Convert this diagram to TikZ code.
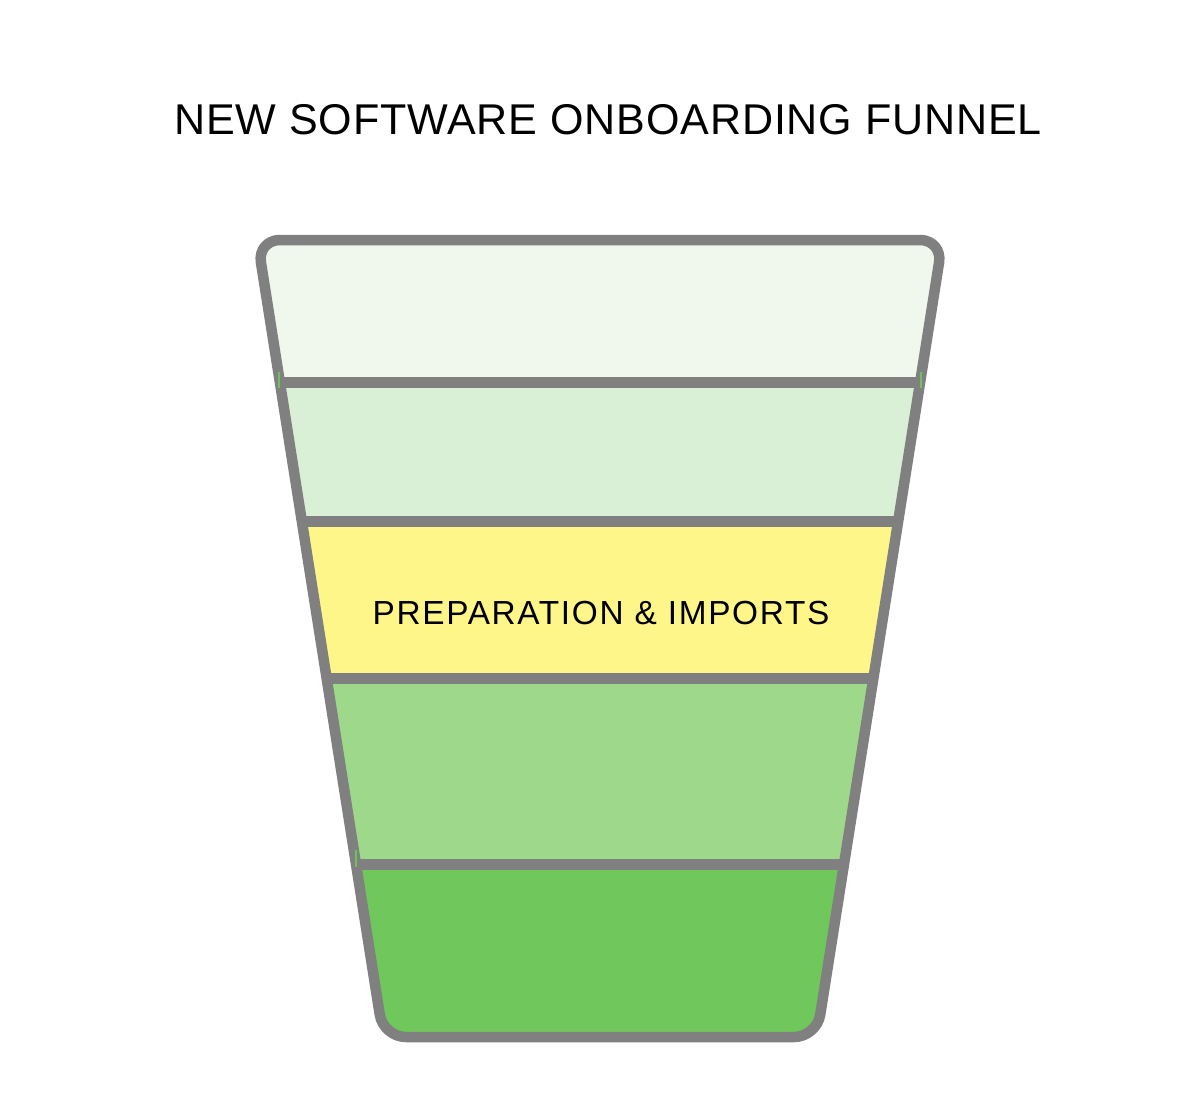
\documentclass[tikz,border=0pt]{standalone}
\usepackage{fontspec}
\setmainfont{Liberation Sans}
\newfontfamily\titlefont[LetterSpace=2]{Liberation Sans}
\newfontfamily\bandfont[LetterSpace=5]{Liberation Sans}
\usetikzlibrary{calc}
\usepackage{xcolor}
\definecolor{funnelgray}{RGB}{128,128,128}
\definecolor{bandtop}{RGB}{240,247,237}
\definecolor{bandtwo}{RGB}{218,240,214}
\definecolor{bandmid}{RGB}{255,246,137}
\definecolor{bandfour}{RGB}{158,217,139}
\definecolor{bandlow}{RGB}{112,199,92}
\definecolor{tickgreen}{RGB}{108,195,90}

\begin{document}
\begin{tikzpicture}[x=0.02cm,y=-0.02cm,
    outline/.style={draw=funnelgray, line width=0.21cm, rounded corners=0.45cm, line join=round},
    divider/.style={draw=funnelgray, line width=0.22cm},
    tick/.style={draw=tickgreen, line width=0.035cm}]
    \useasboundingbox (0,0) rectangle (1200,1095);

    \node (title) at (608,120) {\titlefont\fontsize{24.5}{29}\selectfont NEW SOFTWARE ONBOARDING FUNNEL};

    \coordinate (tl) at (257.4,240);
    \coordinate (tr) at (942.6,240);
    \coordinate (br) at (816.7,1037);
    \coordinate (bl) at (383.3,1037);

    % bands
    \begin{scope}
        \clip[rounded corners=0.45cm] (tl) -- (tr) -- (br) -- (bl) -- cycle;
        \fill[bandtop] (200,200) rectangle (1000,383);
        \fill[bandtwo] (200,383) rectangle (1000,521);
        \fill[bandmid] (200,521) rectangle (1000,679);
        \fill[bandfour] (200,679) rectangle (1000,864);
        \fill[bandlow] (200,864) rectangle (1000,1100);
    \end{scope}

    \coordinate (l1) at ($(tl)!0.1794!(bl)$);
    \coordinate (r1) at ($(tr)!0.1794!(br)$);
    \coordinate (l2) at ($(tl)!0.3526!(bl)$);
    \coordinate (r2) at ($(tr)!0.3526!(br)$);
    \coordinate (l3) at ($(tl)!0.5508!(bl)$);
    \coordinate (r3) at ($(tr)!0.5508!(br)$);
    \coordinate (l4) at ($(tl)!0.7830!(bl)$);
    \coordinate (r4) at ($(tr)!0.7830!(br)$);

    \draw[divider] (l1) -- (r1);
    \draw[divider] (l2) -- (r2);
    \draw[divider] (l3) -- (r3);
    \draw[divider] (l4) -- (r4);

    \draw[outline] (tl) -- (tr) -- (br) -- (bl) -- cycle;

    \draw[tick] ($(l1)+(-1,-11)$) -- ($(l1)+(-1,5)$);
    \draw[tick] ($(r1)+(1,-11)$) -- ($(r1)+(1,5)$);
    \draw[tick] ($(l4)+(0,-14)$) -- ($(l4)+(0,3)$);

    \node (prep) at (601,613) {\bandfont\fontsize{19}{23}\selectfont PREPARATION \& IMPORTS};
\end{tikzpicture}
\end{document}
